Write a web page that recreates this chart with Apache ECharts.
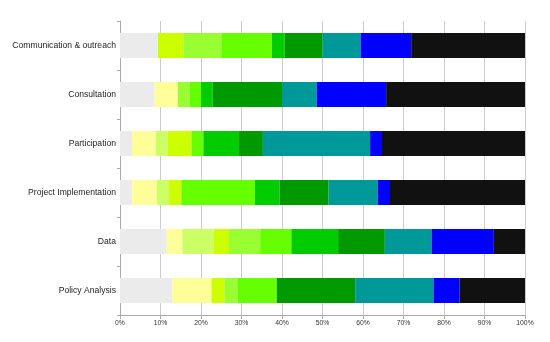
<!DOCTYPE html>
<html>
<head>
<meta charset="utf-8">
<script src="https://cdn.jsdelivr.net/npm/echarts@6/dist/echarts.min.js"></script>
<style>
html,body{margin:0;padding:0;background:#fff;}
#chart{width:550px;height:342px;}
</style>
</head>
<body>
<div id="chart"></div>
<script>
var categories = ["Communication & outreach", "Consultation", "Participation", "Project Implementation", "Data", "Policy Analysis"];
var tickValues = [0, 10, 20, 30, 40, 50, 60, 70, 80, 90, 100];

// percentage shares per category (top to bottom), one array per stacked segment
var seriesNames = ["Level 1", "Level 2", "Level 3", "Level 4", "Level 5", "Level 6", "Level 7", "Level 8", "Level 9", "Level 10", "Level 11"];
var s1  = [9.38, 8.57, 2.94, 3.03, 11.54, 12.90];
var s2  = [0,    5.71, 5.88, 6.06, 3.85,  9.68];
var s3  = [0,    0,    2.94, 3.03, 7.69,  0];
var s4  = [6.25, 0,    5.88, 3.03, 3.85,  3.23];
var s5  = [9.38, 2.86, 0,    0,    7.69,  3.23];
var s6  = [12.5, 2.86, 2.94, 18.18, 7.69, 9.68];
var s7  = [3.13, 2.86, 8.82, 6.06, 11.54, 0];
var s8  = [9.38, 17.14, 5.88, 12.12, 11.54, 19.35];
var s9  = [9.38, 8.57, 26.47, 12.12, 11.54, 19.35];
var s10 = [12.5, 17.14, 2.94, 3.03, 15.38, 6.45];
var s11 = [28.1, 34.29, 35.31, 33.34, 7.69, 16.13];
var seriesColors = ["#ebebeb", "#ffff99", "#ccff66", "#ccff00", "#99ff33", "#66ff00", "#00cc00", "#009900", "#009999", "#0000ff", "#111111"];

var allSeries = [s1, s2, s3, s4, s5, s6, s7, s8, s9, s10, s11];
var chart = echarts.init(document.getElementById('chart'), null, {renderer: 'canvas'});
var FONT = 'Liberation Sans, Arial, sans-serif';
var option = {
  backgroundColor: '#ffffff',
  animation: false,
  grid: {left: 120, right: 25, top: 21, bottom: 27, containLabel: false},
  xAxis: {
    type: 'value',
    min: 0, max: 100, interval: 10,
    axisLine: {show: true, lineStyle: {color: '#aaaaaa', width: 1}},
    axisTick: {show: true, length: 4, lineStyle: {color: '#aaaaaa'}},
    splitLine: {show: true, lineStyle: {color: '#cccccc', width: 1}},
    axisLabel: {formatter: '{value}%', fontSize: 6.8, color: '#333333', fontFamily: FONT, margin: 5}
  },
  yAxis: {
    type: 'category',
    data: categories,
    inverse: true,
    axisLine: {show: true, lineStyle: {color: '#aaaaaa', width: 1}},
    axisTick: {show: true, length: 3, lineStyle: {color: '#aaaaaa'}},
    splitLine: {show: false},
    axisLabel: {fontSize: 8.6, color: '#222222', fontFamily: FONT, margin: 4}
  },
  series: allSeries.map(function (d, i) {
    return {
      name: seriesNames[i],
      type: 'bar',
      stack: 'total',
      barWidth: 25,
      data: d,
      itemStyle: {color: seriesColors[i]}
    };
  })
};
chart.setOption(option);
</script>
</body>
</html>
